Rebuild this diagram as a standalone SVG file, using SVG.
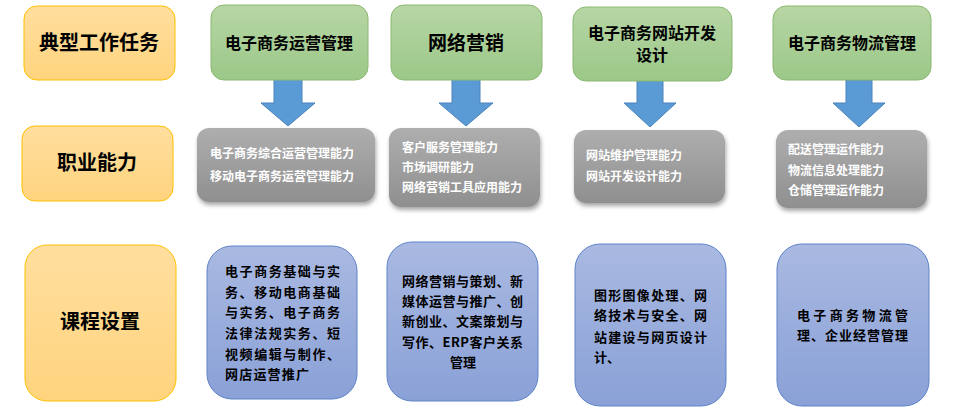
<svg xmlns="http://www.w3.org/2000/svg" width="956" height="414" viewBox="0 0 956 414">
<defs>
<linearGradient id="gOr" x1="0" y1="0" x2="0" y2="1"><stop offset="0" stop-color="#FFDE9E"/><stop offset="1" stop-color="#FFD47E"/></linearGradient>
<linearGradient id="gGr" x1="0" y1="0" x2="0" y2="1"><stop offset="0" stop-color="#B7D6A5"/><stop offset="1" stop-color="#9BC888"/></linearGradient>
<linearGradient id="gGy" x1="0" y1="0" x2="0" y2="1"><stop offset="0" stop-color="#AEAEAE"/><stop offset="1" stop-color="#8F8F8F"/></linearGradient>
<linearGradient id="gBl" x1="0" y1="0" x2="0" y2="1"><stop offset="0" stop-color="#A9B9E1"/><stop offset="1" stop-color="#8AA1D7"/></linearGradient>
<filter id="sh" x="-10%" y="-10%" width="125%" height="135%"><feDropShadow dx="1" dy="3" stdDeviation="2" flood-color="#000" flood-opacity="0.35"/></filter>
</defs>
<style>
.or{fill:url(#gOr);stroke:#FFC000;stroke-width:1}
.gr{fill:url(#gGr);stroke:#8CB872;stroke-width:1}
.gy{fill:url(#gGy);stroke:none;filter:url(#sh)}
.bl{fill:url(#gBl);stroke:#5E83C9;stroke-width:1}
.arr{fill:#5B9BD5;stroke:#4A83BC;stroke-width:1}
.hd{font-family:"Liberation Serif","Noto Sans CJK SC",serif;font-weight:bold;fill:#000;text-anchor:middle}
.tk{font-family:"Noto Sans CJK SC",sans-serif;font-weight:bold;fill:#000;text-anchor:middle}
.wt{font-family:"Noto Sans CJK SC",sans-serif;font-weight:bold;font-size:12px;fill:#fff}
.cs{font-family:"Noto Sans CJK SC",sans-serif;font-weight:bold;font-size:13px;fill:#000}
</style>
<g id="connectors">
<polygon class="arr" points="274,78 302,78 302,103 315,103 288,126 261,103 274,103"/>
<polygon class="arr" points="452,78 480,78 480,103 493,103 466,126 439,103 452,103"/>
<polygon class="arr" points="637,80 663,80 663,103 676,103 650,127 624,103 637,103"/>
<polygon class="arr" points="846,80 872,80 872,103 885,103 859,127 833,103 846,103"/>
</g>
<g id="row1-label"><rect class="or" x="24" y="6" width="151" height="74" rx="13"/><text class="tk" x="99" y="50" font-size="20">典型工作任务</text></g>
<g id="task1"><rect class="gr" x="211" y="5" width="157" height="75" rx="13"/><text class="tk" x="289" y="49" font-size="16">电子商务运营管理</text></g>
<g id="task2"><rect class="gr" x="391" y="5" width="151" height="75" rx="13"/><text class="tk" x="466" y="50" font-size="19">网络营销</text></g>
<g id="task3"><rect class="gr" x="573" y="7" width="159" height="74" rx="13"/><text class="tk" x="652" y="39" font-size="16">电子商务网站开发</text><text class="tk" x="652" y="61" font-size="16">设计</text></g>
<g id="task4"><rect class="gr" x="773" y="6" width="158" height="74" rx="13"/><text class="tk" x="852" y="49" font-size="16">电子商务物流管理</text></g>
<g id="row2-label"><rect class="or" x="22" y="126" width="151" height="75" rx="13"/><text class="tk" x="97" y="170" font-size="20">职业能力</text></g>
<g id="ability1"><rect class="gy" x="197" y="128" width="178" height="74" rx="12"/><text class="wt" x="210" y="158">电子商务综合运营管理能力</text><text class="wt" x="210" y="181">移动电子商务运营管理能力</text></g>
<g id="ability2"><rect class="gy" x="389" y="128" width="151" height="79" rx="12"/><text class="wt" x="402" y="152">客户服务管理能力</text><text class="wt" x="402" y="172">市场调研能力</text><text class="wt" x="402" y="192">网络营销工具应用能力</text></g>
<g id="ability3"><rect class="gy" x="574" y="130" width="151" height="73" rx="12"/><text class="wt" x="586" y="160">网站维护管理能力</text><text class="wt" x="586" y="181">网站开发设计能力</text></g>
<g id="ability4"><rect class="gy" x="776" y="130" width="151" height="78" rx="12"/><text class="wt" x="788" y="154">配送管理运作能力</text><text class="wt" x="788" y="175">物流信息处理能力</text><text class="wt" x="788" y="195">仓储管理运作能力</text></g>
<g id="row3-label"><rect class="or" x="25" y="245" width="151" height="156" rx="22"/><text class="tk" x="100" y="329" font-size="20">课程设置</text></g>
<g id="course1"><rect class="bl" x="207" y="246" width="150" height="153" rx="25"/>
<text class="cs" x="225" y="276" textLength="115" lengthAdjust="spacing">电子商务基础与实</text>
<text class="cs" x="225" y="297" textLength="115" lengthAdjust="spacing">务、移动电商基础</text>
<text class="cs" x="225" y="317" textLength="115" lengthAdjust="spacing">与实务、电子商务</text>
<text class="cs" x="225" y="338" textLength="115" lengthAdjust="spacing">法律法规实务、短</text>
<text class="cs" x="225" y="359" textLength="115" lengthAdjust="spacing">视频编辑与制作、</text>
<text class="cs" x="225" y="379" textLength="84" lengthAdjust="spacing">网店运营推广</text></g>
<g id="course2"><rect class="bl" x="387" y="242" width="151" height="159" rx="25"/>
<text class="cs" x="402" y="286" textLength="121" lengthAdjust="spacing">网络营销与策划、新</text>
<text class="cs" x="402" y="306" textLength="121" lengthAdjust="spacing">媒体运营与推广、创</text>
<text class="cs" x="402" y="326" textLength="121" lengthAdjust="spacing">新创业、文案策划与</text>
<text class="cs" x="402" y="347" textLength="121" lengthAdjust="spacing">写作、ERP客户关系</text>
<text class="cs" x="463" y="367" text-anchor="middle">管理</text></g>
<g id="course3"><rect class="bl" x="575" y="244" width="151" height="162" rx="25"/>
<text class="cs" x="594" y="300" textLength="113" lengthAdjust="spacing">图形图像处理、网</text>
<text class="cs" x="594" y="320" textLength="113" lengthAdjust="spacing">络技术与安全、网</text>
<text class="cs" x="594" y="342" textLength="113" lengthAdjust="spacing">站建设与网页设计</text>
<text class="cs" x="594" y="362">计、</text></g>
<g id="course4"><rect class="bl" x="777" y="244" width="152" height="162" rx="25"/>
<text class="cs" x="797" y="320" textLength="111" lengthAdjust="spacing">电子商务物流管</text>
<text class="cs" x="797" y="340" textLength="111" lengthAdjust="spacing">理、企业经营管理</text></g>
</svg>
